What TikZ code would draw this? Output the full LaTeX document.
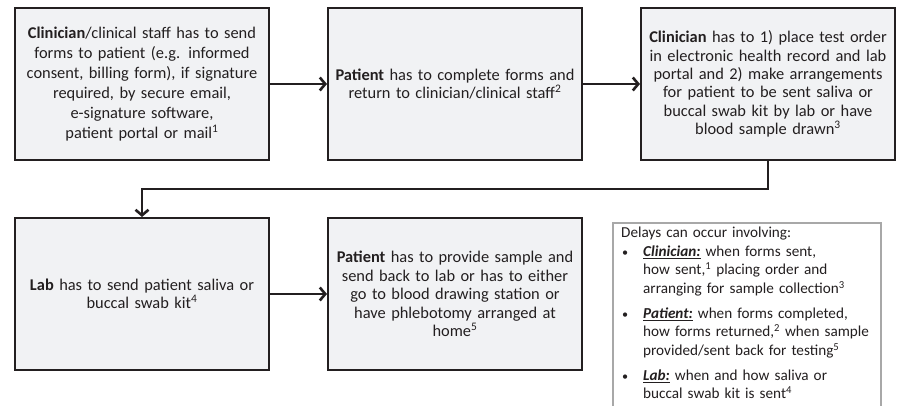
\documentclass[tikz,border=0pt]{standalone}
\usepackage{fontspec}
\setmainfont{Carlito}
\usetikzlibrary{arrows.meta, positioning}
\definecolor{stepfill}{HTML}{F1F2F4}
\definecolor{stepline}{HTML}{231F20}
\definecolor{notegray}{HTML}{A8A8A8}
\newcommand{\noteitem}[1]{\hangindent=22pt\hangafter=1\makebox[22pt][l]{\hspace{1pt}\scalebox{0.8}{\textbullet}}#1\par}
\newcommand{\who}[1]{\textbf{\textit{\underline{#1}}}}

\begin{document}
\begin{tikzpicture}[x=1pt, y=-1pt,
  every node/.style={text=stepline},
  stepbox/.style={rectangle, draw=stepline, line width=2pt, fill=stepfill, minimum width=254pt, minimum height=152pt, text width=248pt, align=center, inner sep=0pt, font=\fontsize{16.4}{18.4}\selectfont},
  flow/.style={draw=stepline, line width=2.6pt, -{Straight Barb[length=5.5pt, width=13pt]}},
]
\useasboundingbox (0,0) rectangle (898,406);

% top row
\node[stepbox, font=\fontsize{16.4}{20}\selectfont] (send) at (142,84) {\textbf{Clinician}/clinical staff has to send\\forms to patient (e.g. informed\\consent, billing form), if signature\\required, by secure email,\\e-signature software,\\patient portal or mail\textsuperscript{1}};
\node[stepbox, right=57pt of send] (complete) {\textbf{Patient} has to complete forms and\\return to clinician/clinical staff\textsuperscript{2}};
\node[stepbox, right=57pt of complete] (order) {\textbf{Clinician} has to 1) place test order\\in electronic health record and lab\\portal and 2) make arrangements\\for patient to be sent saliva or\\buccal swab kit by lab or have\\blood sample drawn\textsuperscript{3}};

% bottom row
\node[stepbox] (kit) at (142,294) {\textbf{Lab} has to send patient saliva or\\buccal swab kit\textsuperscript{4}};
\node[stepbox, right=57pt of kit] (sample) {\textbf{Patient} has to provide sample and\\send back to lab or has to either\\go to blood drawing station or\\have phlebotomy arranged at\\home\textsuperscript{5}};

\draw[flow] (send) -- (complete);
\draw[flow] (complete) -- (order);
\draw[flow] (order.south) -- ++(0,28) -| (kit.north);
\draw[flow] (kit) -- (sample);

% delays note
\draw[notegray, line width=1.2pt, fill=white] (613,223) rectangle (881,420);
\node[anchor=north west, inner xsep=8pt, inner ysep=4pt, text width=300pt, align=left, font=\fontsize{15.2}{18.5}\selectfont] (delays) at (613,223) {%
Delays can occur involving:\par
\noteitem{\who{Clinician:} when forms sent,\newline how sent,\textsuperscript{1} placing order and\newline arranging for sample collection\textsuperscript{3}}\vspace{6.5pt}
\noteitem{\who{Patient:} when forms completed,\newline how forms returned,\textsuperscript{2} when sample\newline provided/sent back for testing\textsuperscript{5}}\vspace{6.5pt}
\noteitem{\who{Lab:} when and how saliva or\newline buccal swab kit is sent\textsuperscript{4}}};
\end{tikzpicture}
\end{document}
